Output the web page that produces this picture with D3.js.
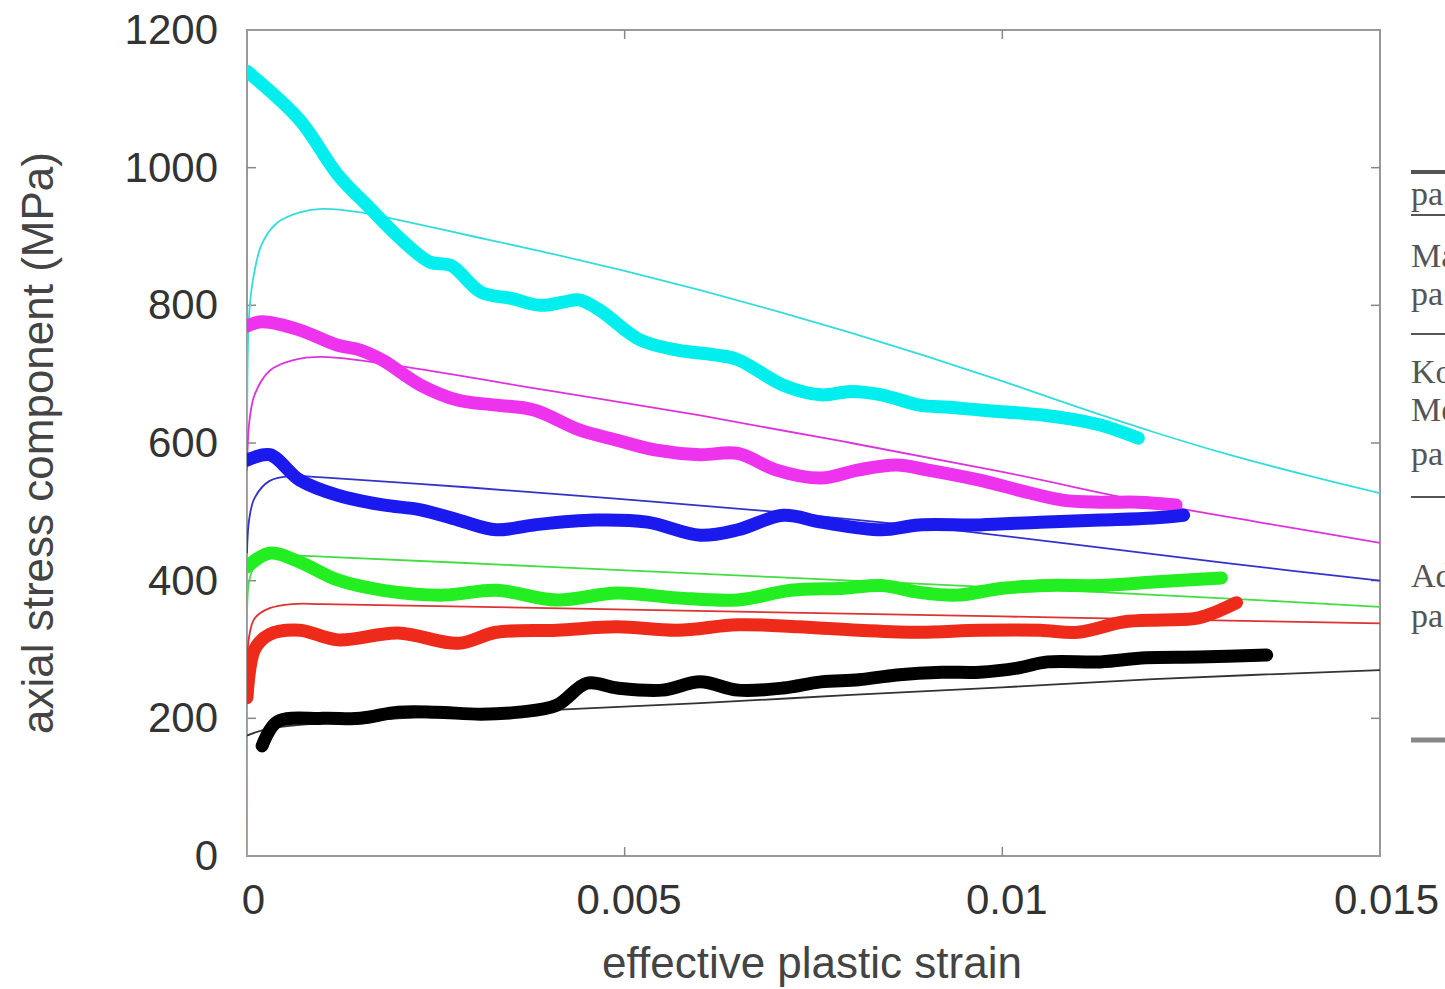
<!DOCTYPE html>
<html><head><meta charset="utf-8">
<script src="https://cdn.jsdelivr.net/npm/d3@7"></script>
<style>body{margin:0;background:#fff;overflow:hidden}svg{display:block}</style>
</head><body>
<script>
// ---- data ----
const xTicks = [0, 0.005, 0.01, 0.015];
const xTickLabels = ["0", "0.005", "0.01", "0.015"];
const yTicks = [0, 200, 400, 600, 800, 1000, 1200];
const seriesColors = ["#00eeee", "#ee33ee", "#1a1aee", "#22ee22", "#ee2a1a", "#000000"];
const thinColors = ["#33dddd", "#dd33dd", "#3333cc", "#44dd44", "#dd3333", "#333333"];

// experimental (thick) curves: [strain, stress]
const expCyan = [[0,1140],[0.0007,1069],[0.0012,990],[0.00163,941],[0.002,900],[0.00242,863],[0.0027,858],[0.0031,819],[0.0035,810],[0.00388,800],[0.0042,805],[0.0044,808],[0.00467,793],[0.0052,750],[0.0057,735],[0.0062,728],[0.0065,721],[0.0071,684],[0.0076,670],[0.008,675],[0.0084,670],[0.0089,655],[0.0093,652],[0.0097,648],[0.0105,641],[0.0109,635],[0.0113,626],[0.0118,607]];
const expMagenta = [[0,770],[0.0002,776],[0.0007,764],[0.0012,742],[0.0015,735],[0.0018,720],[0.0023,684],[0.0028,662],[0.0033,655],[0.0038,648],[0.0044,619],[0.0049,604],[0.0054,590],[0.0060,583],[0.0065,585],[0.0070,561],[0.0076,549],[0.0081,561],[0.0086,568],[0.0090,561],[0.0097,546],[0.0102,532],[0.0108,517],[0.0113,514],[0.0118,514],[0.0123,510]];
const expBlue = [[0,575],[0.0003,583],[0.0007,546],[0.0012,524],[0.0018,510],[0.0023,503],[0.0028,488],[0.0033,474],[0.0038,481],[0.0046,488],[0.0053,485],[0.0060,466],[0.0065,474],[0.0071,495],[0.0076,485],[0.0084,474],[0.0089,481],[0.0097,481],[0.0105,485],[0.0113,488],[0.0120,491],[0.0124,495]];
const expGreen = [[0,420],[0.0003,440],[0.0007,427],[0.0012,401],[0.0018,386],[0.0026,379],[0.0033,386],[0.0041,372],[0.0049,382],[0.0057,375],[0.0065,372],[0.0072,386],[0.0079,389],[0.0084,393],[0.0089,383],[0.0094,379],[0.0100,389],[0.0106,393],[0.0113,393],[0.0120,398],[0.0129,404]];
const expRed = [[0,230],[0.0001,300],[0.0003,322],[0.0007,328],[0.0012,314],[0.002,324],[0.0028,309],[0.0033,325],[0.0041,328],[0.0049,333],[0.0057,328],[0.0065,336],[0.0073,333],[0.0081,328],[0.0089,325],[0.0097,328],[0.0105,328],[0.0110,325],[0.0116,340],[0.0121,343],[0.0126,346],[0.0131,368]];
const expBlack = [[0.0002,160],[0.0004,195],[0.001,200],[0.0015,200],[0.002,209],[0.0025,209],[0.0031,206],[0.0036,209],[0.0041,219],[0.0045,251],[0.0049,244],[0.0055,241],[0.006,253],[0.0065,241],[0.0071,244],[0.0076,253],[0.0081,256],[0.0086,263],[0.0092,267],[0.0097,267],[0.0102,273],[0.0106,282],[0.0113,282],[0.0119,288],[0.0126,289],[0.0135,292]];

// model (thin) curves
const modCyan = [[0,0],[0,600],[0.00003,790],[0.0001,850],[0.0002,890],[0.0004,920],[0.0007,935],[0.001,940],[0.0015,935],[0.002,924],[0.003,900],[0.004,876],[0.005,850],[0.006,822],[0.007,792],[0.008,760],[0.009,726],[0.010,690],[0.011,652],[0.012,616],[0.013,583],[0.014,554],[0.015,527]];
const modMagenta = [[0,560],[0.00003,630],[0.0001,670],[0.0003,705],[0.0006,720],[0.001,725],[0.002,712],[0.004,676],[0.006,640],[0.008,600],[0.010,558],[0.012,512],[0.0135,483],[0.015,455]];
const modBlue = [[0,440],[0.00003,490],[0.0001,520],[0.0003,545],[0.0006,552],[0.001,550],[0.003,535],[0.005,518],[0.007,500],[0.009,478],[0.011,452],[0.013,425],[0.015,400]];
const modGreen = [[0,350],[0.00003,400],[0.0001,420],[0.0003,432],[0.0006,436],[0.001,435],[0.004,420],[0.007,405],[0.010,390],[0.013,374],[0.015,362]];
const modRed = [[0,280],[0.00003,320],[0.0001,345],[0.0003,360],[0.0006,366],[0.001,366],[0.004,360],[0.007,354],[0.010,348],[0.013,342],[0.015,338]];
const modBlack = [[0,175],[0.0003,185],[0.002,200],[0.004,212],[0.006,222],[0.008,234],[0.010,245],[0.012,257],[0.015,270]];

const expSeries = [expCyan, expMagenta, expBlue, expGreen, expRed, expBlack];
const modSeries = [modCyan, modMagenta, modBlue, modGreen, modRed, modBlack];

const legendTexts = [["pa",205],["Ma",267],["pa",305],["Ko",383],["Me",421],["pa",465],["Ad",587],["pa",627]];
const legendRules = [[172,4,"#555"],[215,2,"#555"],[334,2,"#555"],[497,2,"#555"],[740,5,"#888"]];

// ---- drawing ----
const W = 1445, H = 989;
const svg = d3.select("body").append("svg").attr("width", W).attr("height", H);
const x = d3.scaleLinear().domain([0, 0.015]).range([247, 1380]);
const y = d3.scaleLinear().domain([0, 1200]).range([856, 30]);
const sans = "Liberation Sans, Arial, sans-serif";

// frame
svg.append("rect").attr("x", 247).attr("y", 30).attr("width", 1133).attr("height", 826)
  .attr("fill", "none").attr("stroke", "#999").attr("stroke-width", 2);

// ticks (inward, both sides)
const tickLen = 9;
yTicks.forEach(t => {
  if (t === 0 || t === 1200) return;
  svg.append("line").attr("x1", 247).attr("x2", 247 + tickLen).attr("y1", y(t)).attr("y2", y(t)).attr("stroke", "#888").attr("stroke-width", 1.5);
  svg.append("line").attr("x1", 1380).attr("x2", 1380 - tickLen).attr("y1", y(t)).attr("y2", y(t)).attr("stroke", "#888").attr("stroke-width", 1.5);
});
xTicks.forEach(t => {
  if (t === 0 || t === 0.015) return;
  svg.append("line").attr("x1", x(t)).attr("x2", x(t)).attr("y1", 856).attr("y2", 856 - tickLen).attr("stroke", "#888").attr("stroke-width", 1.5);
  svg.append("line").attr("x1", x(t)).attr("x2", x(t)).attr("y1", 30).attr("y2", 30 + tickLen).attr("stroke", "#888").attr("stroke-width", 1.5);
});

// tick labels via axes
const yAxis = d3.axisLeft(y).tickValues(yTicks).tickSize(0).tickPadding(29).tickFormat(d3.format("d"));
const ga = svg.append("g").attr("transform", "translate(247,0)").call(yAxis);
ga.select(".domain").remove();
ga.selectAll("text").attr("font-family", sans).attr("font-size", 42).attr("fill", "#333");

const xAxis = d3.axisBottom(x).tickValues(xTicks).tickSize(0).tickPadding(28).tickFormat((d, i) => xTickLabels[i]);
const gx = svg.append("g").attr("transform", "translate(0,856)").call(xAxis);
gx.select(".domain").remove();
gx.selectAll("text").attr("font-family", sans).attr("font-size", 42).attr("fill", "#333")
  .attr("dx", (d, i) => i === 0 ? 6 : (i === 3 ? 6 : 4));

// axis titles
svg.append("text").attr("transform", "translate(53,443) rotate(-90)").attr("text-anchor", "middle")
  .attr("font-family", sans).attr("font-size", 44).attr("fill", "#444")
  .text("axial stress component (MPa)");
svg.append("text").attr("x", 812).attr("y", 978).attr("text-anchor", "middle")
  .attr("font-family", sans).attr("font-size", 44).attr("fill", "#444")
  .text("effective plastic strain");

// curves
const line = d3.line().x(d => x(d[0])).y(d => y(d[1])).curve(d3.curveCatmullRom.alpha(0.5));
svg.append("clipPath").attr("id", "c").append("rect").attr("x", 247).attr("y", 30).attr("width", 1133).attr("height", 826);
const plot = svg.append("g").attr("clip-path", "url(#c)");

modSeries.forEach((s, i) => {
  plot.append("path").attr("d", line(s)).attr("fill", "none").attr("stroke", thinColors[i]).attr("stroke-width", 1.8);
});
expSeries.forEach((s, i) => {
  plot.append("path").attr("d", line(s)).attr("fill", "none").attr("stroke", seriesColors[i])
    .attr("stroke-width", 13).attr("stroke-linecap", "round").attr("stroke-linejoin", "round");
});

// legend (cropped at right edge, as in the reference)
legendRules.forEach(r => {
  svg.append("line").attr("x1", 1411).attr("x2", 1445).attr("y1", r[0]).attr("y2", r[0]).attr("stroke", r[2]).attr("stroke-width", r[1]);
});
legendTexts.forEach(t => {
  svg.append("text").attr("x", 1411).attr("y", t[1]).attr("font-family", "Liberation Serif, Times New Roman, serif")
    .attr("font-size", 34).attr("fill", "#555").text(t[0]);
});
</script>
</body></html>
